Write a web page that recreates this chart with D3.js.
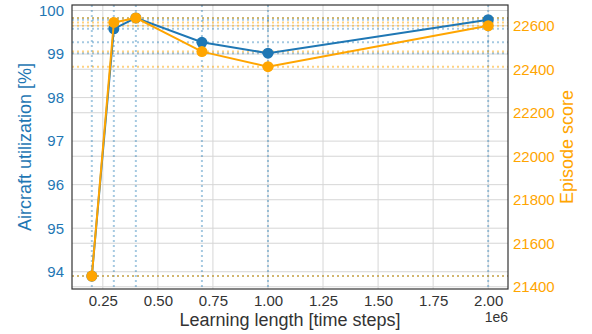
<!DOCTYPE html>
<html>
<head>
<meta charset="utf-8">
<script src="https://cdn.jsdelivr.net/npm/d3@7"></script>
<style>
  body { margin: 0; background: #fff; }
  text { font-family: "Liberation Sans", Arial, sans-serif; }
</style>
</head>
<body>
<div id="chart"></div>
<script>
// learning length in units of 1e6 time steps
const steps = [0.2, 0.3, 0.4, 0.7, 1.0, 2.0];
const utilization = [93.9, 99.58, 99.83, 99.27, 99.02, 99.79];
const score = [21449, 22615, 22636, 22481, 22412, 22600];

const xTicks = [0.25, 0.5, 0.75, 1.0, 1.25, 1.5, 1.75, 2.0];
const utilTicks = [94, 95, 96, 97, 98, 99, 100];
const scoreTicks = [21400, 21600, 21800, 22000, 22200, 22400, 22600];

const blue = "#1f77b4", orange = "#ffa500";

// set the dimensions and margins of the graph
const W = 592, H = 334;
const margin = {top: 5, right: 84, bottom: 45, left: 72};
const width = W - margin.left - margin.right,
    height = H - margin.top - margin.bottom;

const svg = d3.select("#chart")
    .append("svg")
    .attr("width", W)
    .attr("height", H);

const g = svg.append("g")
    .attr("transform", `translate(${margin.left}, ${margin.top})`);

// matplotlib style 5% padding around data
function padded(values) {
    const [lo, hi] = d3.extent(values);
    const p = (hi - lo) * 0.05;
    return [lo - p, hi + p];
}

const x = d3.scaleLinear().domain(padded(steps)).range([0, width]);
const yL = d3.scaleLinear().domain(padded(utilization)).range([height, 0]);
const yR = d3.scaleLinear().domain(padded(score)).range([height, 0]);

// grid lines
const grid = g.append("g").attr("stroke", "#d6d6d6").attr("stroke-width", 1);
grid.selectAll(".gx").data(xTicks).enter().append("line")
    .attr("x1", d => x(d)).attr("x2", d => x(d))
    .attr("y1", 0).attr("y2", height);
grid.selectAll(".gl").data(utilTicks).enter().append("line")
    .attr("x1", 0).attr("x2", width)
    .attr("y1", d => yL(d)).attr("y2", d => yL(d));
grid.selectAll(".gr").data(scoreTicks).enter().append("line")
    .attr("x1", 0).attr("x2", width)
    .attr("y1", d => yR(d)).attr("y2", d => yR(d));

// dotted reference lines at every point
const dots = g.append("g")
    .attr("stroke-width", 2)
    .attr("stroke-dasharray", "2,3");
dots.selectAll(".vl").data(steps).enter().append("line")
    .attr("x1", d => x(d)).attr("x2", d => x(d))
    .attr("y1", 0).attr("y2", height)
    .attr("stroke", blue).attr("stroke-opacity", 0.4);
dots.selectAll(".hl").data(utilization).enter().append("line")
    .attr("x1", 0).attr("x2", width)
    .attr("y1", d => yL(d)).attr("y2", d => yL(d))
    .attr("stroke", blue).attr("stroke-opacity", 0.4);
dots.selectAll(".hr").data(score).enter().append("line")
    .attr("x1", 0).attr("x2", width)
    .attr("y1", d => yR(d)).attr("y2", d => yR(d))
    .attr("stroke", orange).attr("stroke-opacity", 0.5);

// series
function drawSeries(values, y, color) {
    const pts = steps.map((s, i) => [s, values[i]]);
    g.append("path")
        .datum(pts)
        .attr("fill", "none")
        .attr("stroke", color)
        .attr("stroke-width", 2)
        .attr("d", d3.line().x(d => x(d[0])).y(d => y(d[1])));
    g.selectAll(null).data(pts).enter().append("circle")
        .attr("cx", d => x(d[0]))
        .attr("cy", d => y(d[1]))
        .attr("r", 5.5)
        .attr("fill", color);
}
drawSeries(utilization, yL, blue);
drawSeries(score, yR, orange);

// frame
g.append("rect")
    .attr("width", width).attr("height", height)
    .attr("fill", "none").attr("stroke", "#333").attr("stroke-width", 1.2);

// axes
const xAxis = g.append("g")
    .attr("transform", `translate(0, ${height})`)
    .call(d3.axisBottom(x).tickValues(xTicks).tickFormat(d3.format(".2f")).tickSize(0).tickPadding(6));
const lAxis = g.append("g")
    .call(d3.axisLeft(yL).tickValues(utilTicks).tickFormat(d3.format("d")).tickSize(0).tickPadding(8));
const rAxis = g.append("g")
    .attr("transform", `translate(${width}, 0)`)
    .call(d3.axisRight(yR).tickValues(scoreTicks).tickFormat(d3.format("d")).tickSize(0).tickPadding(5));

[xAxis, lAxis, rAxis].forEach(a => {
    a.select(".domain").remove();
    a.selectAll("text").attr("font-size", "15px").style("font-family", "Liberation Sans, Arial, sans-serif");
});
xAxis.selectAll("text").attr("fill", "#333");
lAxis.selectAll("text").attr("fill", blue);
rAxis.selectAll("text").attr("fill", orange);

// labels
svg.append("text")
    .attr("x", margin.left + width)
    .attr("y", 321.5)
    .attr("text-anchor", "end")
    .attr("font-size", "14px")
    .attr("fill", "#333")
    .text("1e6");

svg.append("text")
    .attr("x", margin.left + width / 2)
    .attr("y", 326)
    .attr("text-anchor", "middle")
    .attr("font-size", "18px")
    .attr("fill", "#333")
    .text("Learning length [time steps]");

svg.append("text")
    .attr("transform", `translate(31, ${margin.top + height / 2}) rotate(-90)`)
    .attr("text-anchor", "middle")
    .attr("font-size", "18px")
    .attr("fill", blue)
    .text("Aircraft utilization [%]");

svg.append("text")
    .attr("transform", `translate(573, ${margin.top + height / 2}) rotate(-90)`)
    .attr("text-anchor", "middle")
    .attr("font-size", "18px")
    .attr("fill", orange)
    .text("Episode score");
</script>
</body>
</html>
